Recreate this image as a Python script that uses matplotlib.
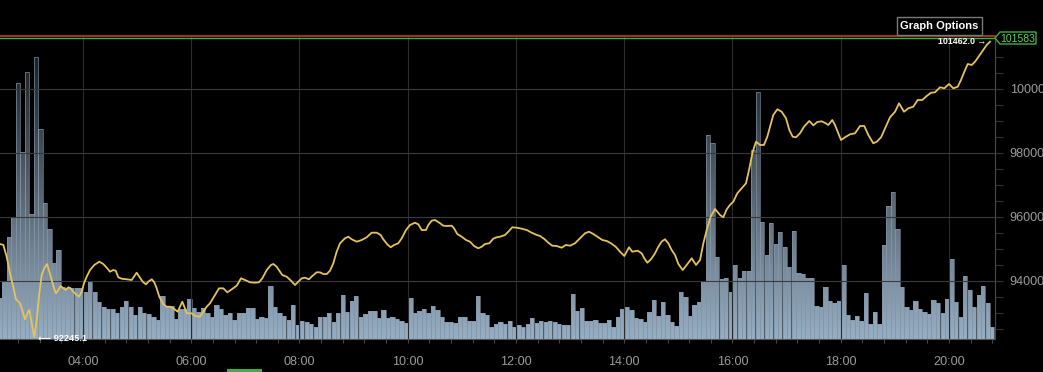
import numpy as np
import matplotlib
matplotlib.use("Agg")
import matplotlib.pyplot as plt
from matplotlib.ticker import MultipleLocator, FixedLocator, FuncFormatter
from matplotlib.patches import Rectangle, Polygon

plt.rcParams['font.family'] = ['Liberation Sans', 'DejaVu Sans']

# ---------------- data ----------------
bar_first_min = 148          # first 5-minute volume bar (02:28)
bar_step_min = 5
volumes = [41,58,102,122,256,187,267,125,282,210,136,110,76,89,52,51,51,51,51,47,58,47,37,32,30,30,26,32,38,32,24,32,26,25,22,19,43,32,
           33,20,30,30,40,31,27,31,26,22,34,30,24,26,19,26,26,31,31,20,22,21,53,32,26,23,19,34,14,18,17,15,12,22,22,26,17,
           26,44,27,38,43,22,25,28,28,21,29,21,22,20,18,16,41,26,28,30,26,33,29,22,17,17,16,22,22,18,18,43,26,24,12,15,
           17,15,18,12,14,12,15,21,16,18,17,18,17,15,14,14,45,28,31,18,18,19,16,16,19,12,22,30,32,29,21,20,17,27,39,23,37,
           24,17,13,47,42,23,34,37,58,204,196,82,60,61,47,74,61,68,68,189,247,117,84,116,95,107,92,72,108,66,65,61,61,33,32,52,
           38,36,38,74,24,19,23,18,46,15,27,15,94,133,147,110,52,32,29,38,30,27,25,39,36,26,40,80,37,22,63,49,32,44,53,36,12]

price_minutes = [148.0,151.7,155.4,159.1,162.7,165.7,170.2,173.2,175.7,178.3,180.5,183.1,186.0,188.7,191.6,194.2,197.1,200.1,202.7,205.3,
                 207.9,210.1,212.6,215.3,218.2,220.8,223.7,226.4,229.3,233.0,235.6,238.6,241.1,244.1,247.8,252.5,258.1,262.5,266.9,269.9,
                 273.6,276.3,279.1,282.9,288.5,294.0,296.5,299.5,302.4,306.2,309.8,312.4,316.2,319.0,321.7,324.6,329.0,332.8,336.5,340.1,
                 345.0,347.5,350.1,352.3,355.0,360.5,364.2,369.7,373.4,377.1,380.8,386.3,390.8,395.5,400.0,404.9,410.4,415.2,419.6,425.1,
                 430.7,435.1,438.8,443.7,448.4,451.0,454.7,458.4,460.9,465.8,470.6,475.0,478.7,482.5,486.1,490.5,494.2,499.1,502.7,506.4,
                 510.2,513.8,517.5,521.2,524.9,530.4,534.1,537.9,543.4,549.0,554.5,560.0,565.6,570.0,572.9,577.3,581.1,584.8,589.5,593.3,
                 598.1,602.5,608.0,611.7,615.5,620.2,622.8,626.6,630.2,635.0,639.4,643.9,648.7,651.3,654.9,659.8,664.6,669.0,673.5,678.2,
                 682.0,685.6,690.4,694.8,698.6,702.3,707.8,711.5,715.9,720.8,726.3,731.9,737.4,743.0,746.6,751.4,755.8,760.2,765.1,770.7,
                 775.1,779.9,785.4,791.0,796.5,800.9,805.7,811.3,815.7,820.6,825.3,830.5,835.3,840.1,842.7,845.3,848.9,854.9,859.3,862.2,
                 865.6,869.7,874.1,877.8,881.5,885.2,888.9,892.6,896.3,900.0,904.8,909.2,914.8,919.6,924.0,927.7,931.4,935.8,940.6,946.2,
                 949.8,953.6,957.2,960.9,965.3,970.2,975.0,978.7,982.4,986.1,990.5,994.9,998.6,1001.6,1005.2,1009.7,1014.5,1019.3,1023.0,1026.7,
                 1030.4,1034.8,1039.3,1045.1,1049.6,1054.0,1058.9,1063.3,1066.2,1070.6,1073.6,1077.3,1080.3,1084.7,1090.3,1095.8,1101.4,1106.1,1110.6,1116.1,
                 1119.9,1124.7,1129.1,1134.6,1140.2,1144.6,1150.1,1154.9,1160.4,1165.3,1170.4,1175.3,1180.1,1184.5,1190.0,1194.8,1200.0,1204.8,1209.7,1213.3,
                 1217.0,1220.8,1225.2,1228.9,1233.3,1238.0,1241.8,1245.5]

prices = [95156,95125,94759,94240,93821,93428,93303,93040,92803,92990,93093,92678,92245,92781,93615,94187,94396,94531,94290,94031,
          93771,93615,93718,93843,93771,93718,93803,93771,93665,93562,93509,93665,93928,94134,94343,94500,94603,94531,94396,94290,
          94343,94321,94115,94071,94053,94031,94134,94259,94134,93978,93896,93978,94053,93959,93771,93509,93271,93196,93196,93146,
          93040,93196,93353,93196,92990,92990,92906,92884,93040,93196,93303,93562,93771,93771,93646,93740,93853,94084,94031,93959,
          93946,93959,94084,94343,94500,94531,94446,94290,94187,94134,94009,93875,93978,94084,94103,94053,94156,94271,94271,94218,
          94218,94321,94553,94915,95178,95334,95384,95303,95228,95281,95365,95509,95509,95437,95303,95146,95053,95125,95178,95334,
          95593,95750,95821,95771,95593,95593,95750,95884,95906,95821,95728,95718,95728,95646,95468,95384,95281,95228,95093,95021,
          95071,95156,95178,95321,95365,95384,95437,95540,95678,95665,95634,95593,95509,95437,95406,95312,95196,95103,95093,95040,
          95125,95103,95178,95334,95490,95540,95468,95365,95281,95250,95178,95071,94915,94781,94915,95053,94915,94946,94865,94709,
          94571,94678,94865,95071,95234,95303,95178,94968,94812,94531,94343,94500,94709,94500,94656,95178,95593,96009,96250,96062,
          95990,96240,96375,96478,96740,96896,97053,97521,98040,98353,98250,98250,98509,98821,99187,99365,99290,99084,98718,98509,
          98490,98615,98821,99000,98865,98968,98990,98928,98875,99031,98875,98615,98406,98490,98584,98615,98843,98843,98562,98303,
          98353,98490,98771,99115,99290,99553,99290,99396,99446,99656,99656,99781,99884,99896,100053,100021,100156,100021,100071,100281,
          100540,100781,100750,100853,101031,101218,101375,101478]

low_label = "92245.1"
high_label = "101462.0"
current_price = 101583
marker_high = 101660
x_tick_hours = [4, 6, 8, 10, 12, 14, 16, 18, 20]
price_ticks = [94000, 96000, 98000, 100000]

# ---------------- figure ----------------
W, H = 1043, 372
fig = plt.figure(figsize=(W / 100, H / 100), dpi=100, facecolor='black')

def fx(px):
    return px / W

def fy(py):
    return 1 - py / H

axv = fig.add_axes([0, 33 / H, 995 / W, 302 / H])
axv.set_facecolor('black')
axp = axv.twinx()
axp.patch.set_visible(False)

x0, x1 = 148 / 60, 1251 / 60
vol_top = 302

bar_t = [(bar_first_min + bar_step_min * i) / 60 for i in range(len(volumes))]
bw = bar_step_min / 60 * 0.96
axv.bar(bar_t, volumes, width=bw, color='#9db5cb', edgecolor='none', zorder=1)

grad = np.zeros((256, 1, 4))
a = np.linspace(0.04, 0.88, 256)
grad[:, 0, 3] = a
axv.imshow(grad, extent=[x0, x1, 0, vol_top], origin='lower', aspect='auto',
           interpolation='bilinear', zorder=1.5)
axv.bar(bar_t, volumes, width=bw, facecolor='none', edgecolor='#8396a8',
        linewidth=0.6, alpha=0.75, zorder=1.8)

axv.set_xlim(x0, x1)
axv.set_ylim(0, vol_top)

# vertical grid
for h in x_tick_hours:
    axv.axvline(h, color='#2c2c2c', lw=0.8, zorder=1.9)

axv.xaxis.set_major_locator(FixedLocator(x_tick_hours))
axv.xaxis.set_major_formatter(FuncFormatter(lambda v, p: f"{int(round(v)):02d}:00"))
axv.xaxis.set_minor_locator(MultipleLocator(0.4))
axv.tick_params(axis='x', which='both', direction='out', length=3, width=0.8,
                color='#444444', labelcolor='#9a9a9a', labelsize=9.1, pad=9.5)
axv.tick_params(axis='y', left=False, labelleft=False)
for s in ['top', 'left', 'right']:
    axv.spines[s].set_visible(False)
axv.spines['bottom'].set_color('#555555')
axv.spines['bottom'].set_linewidth(0.8)

# price axis
axp.set_ylim(92187, 92187 + 302 * 31.25)
axp.yaxis.set_major_locator(FixedLocator(price_ticks))
axp.yaxis.set_minor_locator(MultipleLocator(500))
axp.yaxis.set_major_formatter(FuncFormatter(lambda v, p: f"{int(v)}"))
axp.tick_params(axis='y', which='both', direction='out', length=5.5, width=0.8,
                color='#333333', labelcolor='#9a9a9a', labelsize=9.1, pad=5)
for v in price_ticks:
    axp.axhline(v, color='#3a3a3a', lw=0.8, zorder=2)
for s in ['top', 'left', 'bottom']:
    axp.spines[s].set_visible(False)
axp.spines['right'].set_color('#4a4a4a')
axp.spines['right'].set_linewidth(0.8)

pt = [m / 60 for m in price_minutes]
axp.plot(pt, prices, color='#e5c25a', lw=1.3, zorder=5, solid_joinstyle='round')

axp.axhline(marker_high, color='#c0392b', lw=1.2, clip_on=False, zorder=6)
axp.axhline(current_price, color='#3cb043', lw=1.0, clip_on=False, zorder=6)

# annotations
i_low = int(np.argmin(prices))
axp.annotate("\u27f5 " + low_label, xy=(pt[i_low], prices[i_low]), xytext=(4, -1),
             textcoords='offset pixels', ha='left', va='center', color='white',
             fontsize=6.6, fontweight='bold', zorder=7)
axp.annotate(high_label + " \u2192", xy=(pt[-1], prices[-1]), xytext=(-4, 0),
             textcoords='offset pixels', ha='right', va='center', color='white',
             fontsize=6.4, fontweight='bold', zorder=7)

# current price tag
tag = Polygon([(fx(995), fy(38)), (fx(1000), fy(32)), (fx(1036), fy(32)),
               (fx(1036), fy(44)), (fx(1000), fy(44))], closed=True,
              transform=fig.transFigure, facecolor='black', edgecolor='#3cb043', lw=1)
fig.patches.append(tag)
fig.text(fx(1000), fy(38.5), str(current_price), color='#5fd35f', fontsize=7.5,
         ha='left', va='center')

# Graph Options button
btn = Rectangle((fx(897), fy(35)), fx(982) - fx(897), fy(17) - fy(35),
                transform=fig.transFigure, facecolor='black', edgecolor='#7a7a7a', lw=1)
fig.patches.append(btn)
fig.text(fx(939.5), fy(26), "Graph Options", color='white', fontsize=8,
         fontweight='bold', ha='center', va='center')

# small green scrollbar marker
fig.patches.append(Rectangle((fx(227), 0), fx(262) - fx(227), 3 / H,
                             transform=fig.transFigure, facecolor='#3cb043', edgecolor='none'))

fig.savefig("out.png", dpi=100, facecolor='black')
